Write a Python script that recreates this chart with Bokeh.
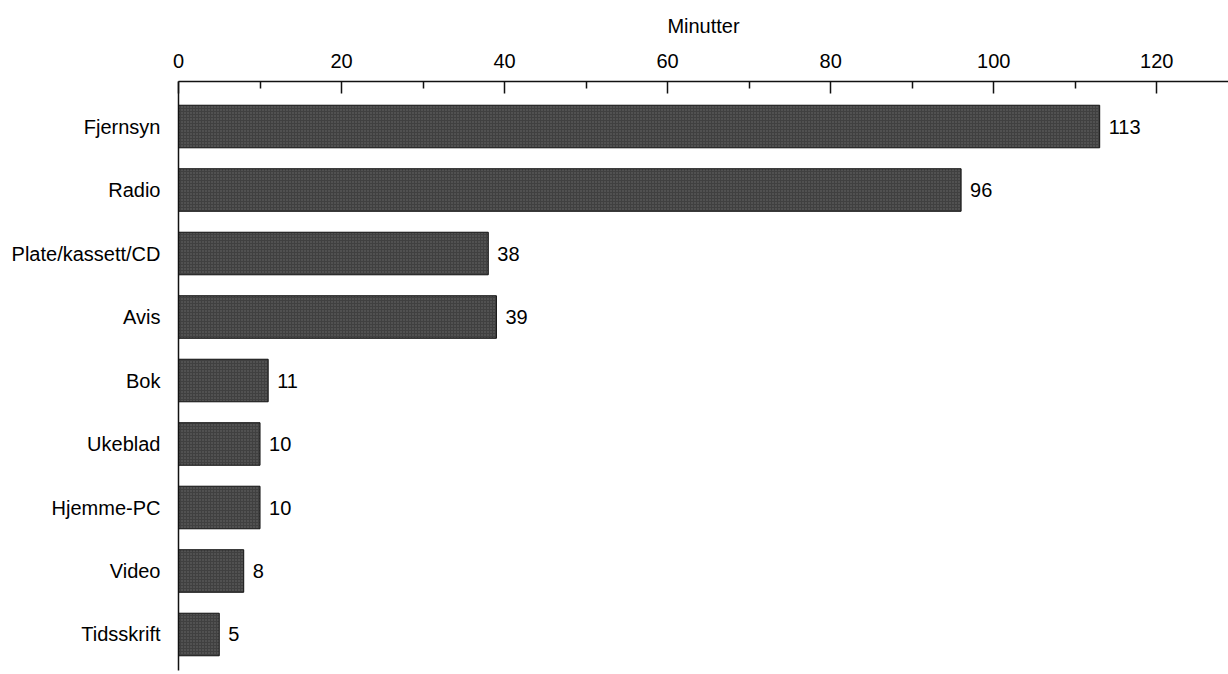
from bokeh.plotting import figure
from bokeh.models import Range1d, FixedTicker, ColumnDataSource, LinearAxis
from bokeh.core.properties import value
from bokeh.embed import file_html
from bokeh.resources import INLINE

categories = ["Fjernsyn", "Radio", "Plate/kassett/CD", "Avis", "Bok",
              "Ukeblad", "Hjemme-PC", "Video", "Tidsskrift"]
minutes = [113, 96, 38, 39, 11, 10, 10, 8, 5]
x_ticks = [0, 20, 40, 60, 80, 100, 120]
x_minor = [10, 30, 50, 70, 90, 110]
axis_title = "Minutter"

FONT = "Liberation Sans"
FS = "20px"

idx = list(range(len(categories)))
src = ColumnDataSource(dict(y=idx, v=minutes, lab=[str(m) for m in minutes], cat=categories))

p = figure(width=1228, height=674, output_backend="svg", toolbar_location=None,
           x_range=Range1d(0, 128.8), y_range=Range1d(8.567, -0.709),
           x_axis_location=None, y_axis_location=None,
           min_border_left=178, min_border_top=81, min_border_right=0, min_border_bottom=4)
p.outline_line_color = None
p.xgrid.visible = False
p.ygrid.visible = False
p.background_fill_color = "white"
p.border_fill_color = "white"

p.hbar(y="y", left=0, right="v", height=0.67, source=src,
       fill_color="#404040", line_color="#111111", line_width=1,
       hatch_pattern="dot", hatch_color="#858585", hatch_scale=3, hatch_weight=1, hatch_alpha=0.6)

p.text(x="v", y="y", text="lab", source=src, x_offset=9,
       text_baseline="middle", text_align="left",
       text_font=value(FONT), text_font_size=FS, text_color="#000000")

xa = LinearAxis(ticker=FixedTicker(ticks=x_ticks, minor_ticks=x_minor),
                axis_label=axis_title)
xa.major_tick_in = 12
xa.major_tick_out = 0
xa.minor_tick_in = 7
xa.minor_tick_out = 0
xa.major_label_standoff = 14
xa.axis_label_standoff = 14
xa.major_label_text_font = FONT
xa.major_label_text_font_size = FS
xa.major_label_text_color = "#000000"
xa.axis_label_text_font = FONT
xa.axis_label_text_font_size = FS
xa.axis_label_text_font_style = "normal"
xa.axis_label_text_color = "#000000"
xa.axis_line_color = "#111111"
xa.major_tick_line_color = "#111111"
xa.minor_tick_line_color = "#111111"
xa.axis_line_width = 1.5
xa.major_tick_line_width = 1.5
xa.minor_tick_line_width = 1.5
p.add_layout(xa, "above")

ya = LinearAxis(ticker=FixedTicker(ticks=idx, minor_ticks=[]))
ya.major_label_overrides = {i: c for i, c in zip(idx, categories)}
ya.major_tick_line_color = None
ya.minor_tick_line_color = None
ya.major_label_standoff = 12
ya.major_label_text_font = FONT
ya.major_label_text_font_size = FS
ya.major_label_text_color = "#000000"
ya.axis_line_color = "#111111"
ya.axis_line_width = 1.5
p.add_layout(ya, "left")

open("out.html", "w").write(file_html(p, INLINE))
